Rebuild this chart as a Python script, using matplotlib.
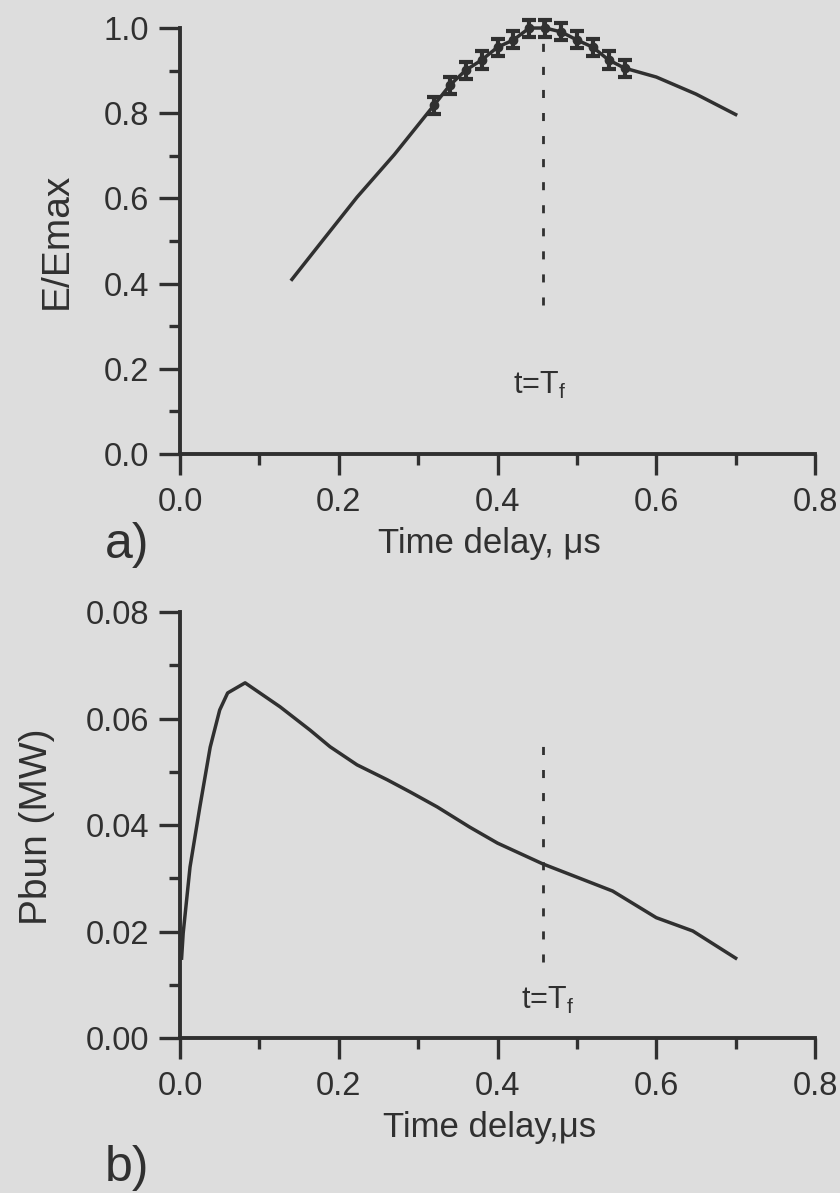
import matplotlib
matplotlib.use('Agg')
import matplotlib.pyplot as plt
from matplotlib.ticker import MultipleLocator, FormatStrFormatter

# Datos leidos de la figura
# a) campo normalizado
linea_t = [0.141, 0.18, 0.223, 0.27, 0.32, 0.34, 0.36, 0.38, 0.40, 0.42, 0.44,
           0.46, 0.48, 0.50, 0.52, 0.54, 0.56, 0.60, 0.65, 0.70]
linea_E = [0.41, 0.502, 0.603, 0.703, 0.819, 0.866, 0.901, 0.925, 0.955, 0.972,
           1.000, 1.000, 0.991, 0.972, 0.955, 0.925, 0.906, 0.885, 0.845, 0.797]

puntos_t = [0.32, 0.34, 0.36, 0.38, 0.40, 0.42, 0.44, 0.46, 0.48, 0.50, 0.52, 0.54, 0.56]
puntos_E = [0.819, 0.866, 0.901, 0.925, 0.955, 0.972, 1.000, 1.000, 0.991, 0.972,
            0.955, 0.925, 0.906]
puntos_err = [0.02] * 13

# b) potencia
pot_t = [0.002, 0.004, 0.0126, 0.025, 0.038, 0.050, 0.060, 0.082, 0.126, 0.164,
         0.189, 0.223, 0.261, 0.29, 0.324, 0.365, 0.40, 0.457, 0.545, 0.60, 0.646, 0.70]
pot_P = [0.015, 0.0197, 0.0321, 0.0434, 0.0546, 0.0616, 0.0648, 0.0667, 0.0622, 0.0578,
         0.0547, 0.0513, 0.0485, 0.0462, 0.0434, 0.0396, 0.0366, 0.0327, 0.0276, 0.0226,
         0.0201, 0.015]

t_f = 0.457
etiquetas_x = ['0.0', '0.2', '0.4', '0.6', '0.8']

tinta = '#303030'
fondo = '#dddddd'

plt.rcParams['font.family'] = ['Liberation Sans', 'DejaVu Sans']
plt.rcParams['mathtext.fontset'] = 'custom'
plt.rcParams['mathtext.rm'] = 'Liberation Sans'
plt.rcParams['mathtext.it'] = 'Liberation Sans'
plt.rcParams['text.color'] = tinta
plt.rcParams['axes.labelcolor'] = tinta
plt.rcParams['xtick.color'] = tinta
plt.rcParams['ytick.color'] = tinta

fig = plt.figure(figsize=(8.4, 11.93), dpi=100, facecolor=fondo)
ax1 = fig.add_axes([0.2143, 0.6194, 0.7560, 0.3571])
ax2 = fig.add_axes([0.2143, 0.1299, 0.7560, 0.3571])


def estilo(ax, ymax, ypaso, yfmt):
    ax.set_facecolor(fondo)
    ax.set_xlim(0, 0.8)
    ax.set_ylim(0, ymax)
    for lado in ['top', 'right']:
        ax.spines[lado].set_visible(False)
    for lado in ['left', 'bottom']:
        ax.spines[lado].set_linewidth(2.8)
        ax.spines[lado].set_color(tinta)
    ax.xaxis.set_major_locator(MultipleLocator(0.2))
    ax.xaxis.set_minor_locator(MultipleLocator(0.1))
    ax.yaxis.set_major_locator(MultipleLocator(ypaso))
    ax.yaxis.set_minor_locator(MultipleLocator(ypaso / 2))
    ax.set_xticks([0, 0.2, 0.4, 0.6, 0.8])
    ax.set_xticklabels(etiquetas_x)
    ax.yaxis.set_major_formatter(FormatStrFormatter(yfmt))
    ax.tick_params(which='major', direction='out', length=15, width=2.4, labelsize=23.5)
    ax.tick_params(which='minor', direction='out', length=8, width=2.4)
    ax.tick_params(axis='x', which='major', pad=9)
    ax.tick_params(axis='y', which='major', pad=7)


estilo(ax1, 1.0, 0.2, '%.1f')
estilo(ax2, 0.08, 0.02, '%.2f')

# a)
ax1.plot(linea_t, linea_E, color=tinta, lw=2.5, clip_on=False)
ax1.errorbar(puntos_t, puntos_E, yerr=puntos_err, fmt='o', ms=6, color=tinta,
             elinewidth=3, capsize=5, capthick=3, clip_on=False)
ax1.plot([t_f, t_f], [0.35, 1.04], color=tinta, lw=2, ls=(0, (2.9, 5.4)), clip_on=False)
ax1.text(0.453, 0.162, r't=T$_\mathrm{f}$', fontsize=22, ha='center', va='center')
ax1.set_xlabel('Time delay, μs', fontsize=25)
ax1.xaxis.set_label_coords(0.487, -0.172)
ax1.set_ylabel('E/Emax', fontsize=28)
ax1.yaxis.set_label_coords(-0.165, 0.5)

# b)
ax2.plot(pot_t, pot_P, color=tinta, lw=2.5)
ax2.plot([t_f, t_f], [0.0143, 0.055], color=tinta, lw=2, ls=(0, (2.9, 5.4)))
ax2.text(0.463, 0.0071, r't=T$_\mathrm{f}$', fontsize=22, ha='center', va='center')
ax2.set_xlabel('Time delay,μs', fontsize=25)
ax2.xaxis.set_label_coords(0.487, -0.172)
ax2.set_ylabel('Pbun (MW)', fontsize=28)
ax2.yaxis.set_label_coords(-0.197, 0.495)

fig.text(127 / 840, 1 - 545 / 1193, 'a)', fontsize=36, ha='center', va='center')
fig.text(127 / 840, 1 - 1168 / 1193, 'b)', fontsize=36, ha='center', va='center')

fig.savefig('out.png', dpi=100, facecolor=fondo)
